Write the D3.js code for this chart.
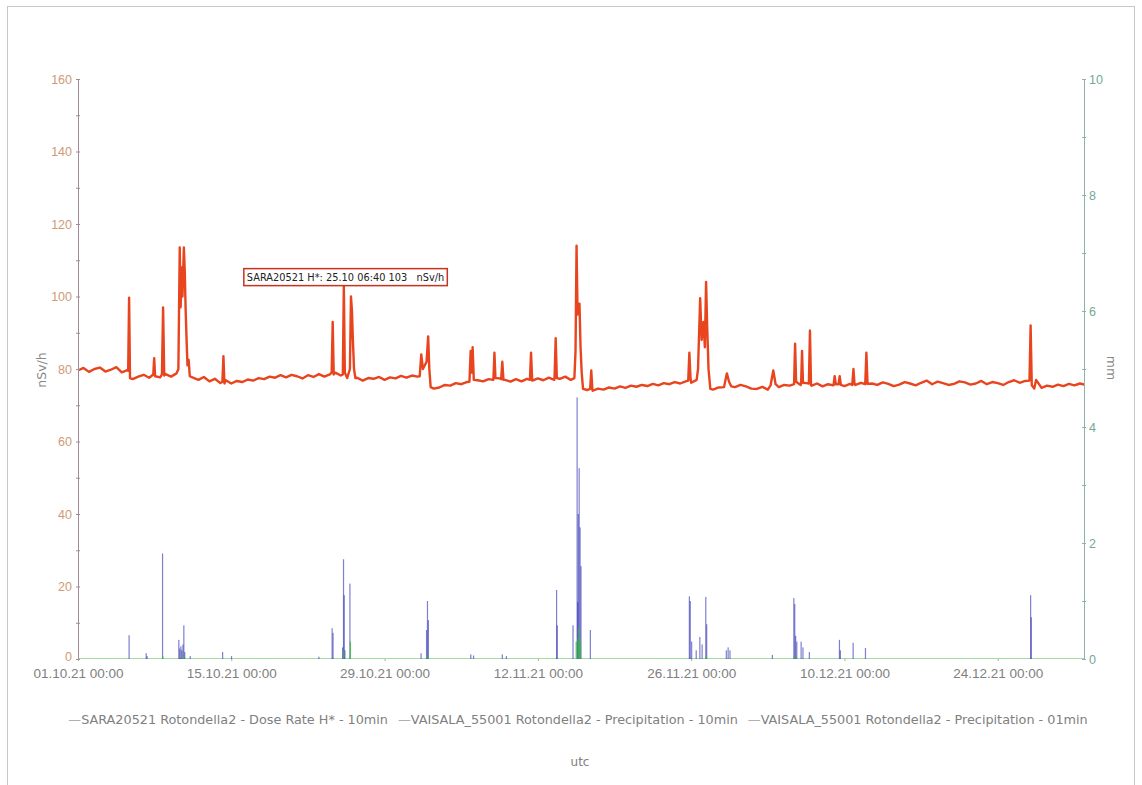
<!DOCTYPE html>
<html>
<head>
<meta charset="utf-8">
<script src="https://cdn.jsdelivr.net/npm/d3@7"></script>
<style>
    body { margin: 0; background: #fff; }
    svg { font-family: "DejaVu Sans", sans-serif; }
</style>
</head>
<body>
<svg id="chart" width="1142" height="785"></svg>
<script>
// Dose rate baseline, one value every 12 h starting 01.10.21 00:00 (nSv/h)
const doseStart = "2021-10-01 00:00";
const doseBaseline = [
    79.6, 80.3, 79.2, 80.0, 80.4, 79.3, 79.8, 80.5, 79.1, 79.7,
    77.2, 77.9, 78.4, 77.6, 78.3, 77.7, 78.6, 77.9, 78.8, 79.4,
    79.0, 77.6, 77.0, 77.8, 76.6, 77.3, 76.1, 76.9, 76.0, 76.7,
    76.4, 77.1, 76.8, 77.5, 77.2, 77.9, 77.6, 78.3, 77.7, 78.4,
    78.0, 77.4, 78.3, 77.8, 78.6, 77.9, 78.5, 79.0, 78.2, 78.8,
    77.0, 77.6, 76.8, 77.5, 77.3, 77.8, 77.0, 77.7, 77.4, 78.1,
    77.6, 78.2, 77.9, 79.5, 77.5, 74.6, 74.9, 75.6, 75.4, 76.1,
    75.8, 76.4, 76.1, 76.9, 76.6, 77.2, 76.8, 77.4, 77.0, 76.5,
    77.2, 76.6, 77.3, 76.8, 77.4, 76.9, 77.6, 77.0, 77.3, 77.9,
    77.0, 77.6, 75.0, 74.2, 74.0, 74.6, 74.3, 74.9, 74.6, 75.2,
    74.8, 75.4, 75.1, 75.6, 75.3, 75.9, 75.5, 76.1, 75.8, 76.4,
    76.0, 76.6, 76.2, 77.0, 77.5, 78.0, 74.3, 74.9, 74.7, 75.3,
    75.0, 75.6, 75.2, 74.6, 74.5, 75.1, 74.3, 74.9, 75.0, 75.6,
    75.4, 75.9, 75.6, 76.1, 75.4, 76.0, 75.2, 75.8, 75.5, 76.0,
    75.3, 75.9, 75.6, 76.2, 75.4, 76.0, 75.6, 76.3, 75.9, 75.3,
    75.7, 76.4, 76.0, 75.5, 76.2, 76.8, 75.8, 76.5, 76.1, 75.6,
    75.9, 76.6, 76.3, 75.7, 76.0, 76.7, 75.8, 76.4, 76.1, 75.6,
    76.4, 76.9, 76.2, 76.7, 76.5, 77.0, 74.8, 75.4, 75.1, 75.7,
    75.3, 75.9, 75.5, 76.0, 75.6
];

// Dose rate peaks (time, nSv/h), each one a short run of readings
const doseSpikes = [
    [["2021-10-05 14:00", 79.5], ["2021-10-05 16:00", 99.7], ["2021-10-05 18:00", 77.5]],
    [["2021-10-07 21:00", 78.5], ["2021-10-07 23:00", 83], ["2021-10-08 01:00", 78]],
    [["2021-10-08 16:00", 78.5], ["2021-10-08 18:30", 97], ["2021-10-08 21:00", 78.2]],
    [["2021-10-10 04:00", 80], ["2021-10-10 07:00", 113.5], ["2021-10-10 09:00", 97], ["2021-10-10 11:00", 108],
     ["2021-10-10 13:00", 100], ["2021-10-10 16:00", 113.5], ["2021-10-10 18:00", 107], ["2021-10-10 20:00", 96],
     ["2021-10-10 22:00", 88], ["2021-10-11 00:00", 81], ["2021-10-11 02:30", 82.5], ["2021-10-11 05:00", 78]],
    [["2021-10-14 04:30", 76.5], ["2021-10-14 06:45", 83.5], ["2021-10-14 09:00", 76]],
    [["2021-10-24 04:00", 79], ["2021-10-24 06:15", 93], ["2021-10-24 08:30", 78.5]],
    [["2021-10-25 04:30", 78.5], ["2021-10-25 06:40", 103], ["2021-10-25 08:50", 79], ["2021-10-25 14:00", 77.5],
     ["2021-10-25 20:00", 80], ["2021-10-25 22:20", 100], ["2021-10-26 00:30", 96], ["2021-10-26 02:30", 88],
     ["2021-10-26 05:00", 80], ["2021-10-26 08:00", 77.5]],
    [["2021-11-01 05:00", 78], ["2021-11-01 08:20", 84], ["2021-11-01 12:00", 80], ["2021-11-01 20:00", 82],
     ["2021-11-01 23:30", 89], ["2021-11-02 02:00", 80], ["2021-11-02 05:00", 75]],
    [["2021-11-05 18:00", 76.5], ["2021-11-05 20:40", 85], ["2021-11-05 22:40", 79], ["2021-11-06 01:00", 86],
     ["2021-11-06 03:30", 77]],
    [["2021-11-07 22:30", 77], ["2021-11-08 00:45", 84.5], ["2021-11-08 03:00", 77.5]],
    [["2021-11-08 15:30", 77.2], ["2021-11-08 18:00", 82], ["2021-11-08 20:30", 77]],
    [["2021-11-11 06:30", 77], ["2021-11-11 09:00", 84.5], ["2021-11-11 11:30", 76.8]],
    [["2021-11-13 12:30", 77.5], ["2021-11-13 15:00", 88.5], ["2021-11-13 17:30", 77.5]],
    [["2021-11-15 08:00", 77.5], ["2021-11-15 10:30", 85], ["2021-11-15 12:45", 114], ["2021-11-15 15:00", 95],
     ["2021-11-15 19:10", 98], ["2021-11-15 21:30", 86], ["2021-11-16 00:00", 79], ["2021-11-16 03:00", 74.5]],
    [["2021-11-16 18:30", 74.5], ["2021-11-16 21:00", 79.6], ["2021-11-16 23:30", 74.2]],
    [["2021-11-25 17:30", 76.8], ["2021-11-25 20:00", 84.5], ["2021-11-25 22:30", 77.5]],
    [["2021-11-26 15:00", 80], ["2021-11-26 19:40", 99.5], ["2021-11-26 23:00", 88], ["2021-11-27 03:00", 93],
     ["2021-11-27 06:00", 86], ["2021-11-27 08:40", 104], ["2021-11-27 11:00", 92], ["2021-11-27 14:00", 80],
     ["2021-11-27 18:00", 74.5]],
    [["2021-11-29 00:00", 75], ["2021-11-29 06:15", 78.8], ["2021-11-29 11:00", 76.5], ["2021-11-29 16:00", 75.2]],
    [["2021-12-03 06:00", 75.5], ["2021-12-03 12:00", 79.6], ["2021-12-03 17:00", 75.8]],
    [["2021-12-05 09:30", 75.8], ["2021-12-05 11:45", 87], ["2021-12-05 14:00", 76.5]],
    [["2021-12-06 01:00", 76], ["2021-12-06 03:00", 85], ["2021-12-06 05:00", 76.2]],
    [["2021-12-06 18:00", 76], ["2021-12-06 20:20", 90.6], ["2021-12-06 22:40", 75.5]],
    [["2021-12-09 00:00", 75.5], ["2021-12-09 02:30", 78], ["2021-12-09 05:00", 75.8]],
    [["2021-12-09 11:00", 75.8], ["2021-12-09 13:30", 78], ["2021-12-09 16:00", 75.6]],
    [["2021-12-10 17:00", 75.6], ["2021-12-10 19:40", 80], ["2021-12-10 22:00", 75.8]],
    [["2021-12-11 21:30", 75.8], ["2021-12-12 00:00", 84.5], ["2021-12-12 02:30", 75.9]],
    [["2021-12-26 21:30", 76.8], ["2021-12-27 00:00", 92], ["2021-12-27 02:30", 75.5], ["2021-12-27 08:00", 74.6]]
];

// Precipitation 10 min (mm)
const precip10 = [
    ["2021-10-05 16:00", 0.41], ["2021-10-07 05:30", 0.10], ["2021-10-07 07:30", 0.05],
    ["2021-10-08 17:20", 1.82], ["2021-10-10 05:00", 0.33], ["2021-10-10 07:00", 0.18],
    ["2021-10-10 09:30", 0.22], ["2021-10-10 11:30", 0.15], ["2021-10-10 14:00", 0.25],
    ["2021-10-10 16:00", 0.58], ["2021-10-10 18:00", 0.12], ["2021-10-11 06:00", 0.05],
    ["2021-10-14 05:00", 0.12], ["2021-10-15 00:30", 0.05], ["2021-10-23 00:00", 0.04],
    ["2021-10-24 05:00", 0.53], ["2021-10-24 07:00", 0.45], ["2021-10-25 04:00", 0.20],
    ["2021-10-25 06:00", 1.72], ["2021-10-25 07:30", 1.10], ["2021-10-25 09:00", 0.15],
    ["2021-10-25 20:00", 1.30], ["2021-11-01 08:00", 0.10], ["2021-11-01 20:00", 0.50],
    ["2021-11-01 22:00", 1.00], ["2021-11-02 00:00", 0.67], ["2021-11-05 21:00", 0.08],
    ["2021-11-06 03:00", 0.06], ["2021-11-08 18:00", 0.08], ["2021-11-09 03:00", 0.05],
    ["2021-11-13 17:00", 1.19], ["2021-11-13 18:30", 0.58], ["2021-11-15 05:00", 0.58],
    ["2021-11-15 14:00", 4.51], ["2021-11-15 15:30", 0.98], ["2021-11-15 16:30", 2.50],
    ["2021-11-15 18:30", 3.29], ["2021-11-15 20:30", 2.27], ["2021-11-15 22:30", 1.60],
    ["2021-11-16 19:00", 0.50], ["2021-11-25 20:00", 1.08], ["2021-11-25 22:00", 1.00],
    ["2021-11-26 01:00", 0.30], ["2021-11-26 11:00", 0.15], ["2021-11-26 19:00", 0.38],
    ["2021-11-27 00:00", 0.25], ["2021-11-27 08:00", 1.07], ["2021-11-27 10:00", 0.60],
    ["2021-11-29 05:00", 0.15], ["2021-11-29 09:00", 0.20], ["2021-11-29 13:00", 0.15],
    ["2021-12-03 10:00", 0.07], ["2021-12-05 09:00", 1.05], ["2021-12-05 11:00", 0.95],
    ["2021-12-05 13:00", 0.40], ["2021-12-05 15:30", 0.30], ["2021-12-06 01:00", 0.30],
    ["2021-12-06 05:00", 0.20], ["2021-12-06 19:00", 0.12], ["2021-12-09 13:00", 0.33],
    ["2021-12-09 15:00", 0.15], ["2021-12-10 19:00", 0.28], ["2021-12-11 22:00", 0.19],
    ["2021-12-27 00:00", 1.10], ["2021-12-27 01:30", 0.72]
];

// Precipitation 01 min (mm)
const precip01 = [
    ["2021-10-08 18:00", 0.05], ["2021-10-10 15:00", 0.08], ["2021-10-25 06:30", 0.15],
    ["2021-10-25 21:00", 0.30], ["2021-11-01 23:00", 0.08], ["2021-11-15 12:00", 0.30],
    ["2021-11-15 16:00", 0.35], ["2021-11-15 18:00", 0.55], ["2021-11-15 21:00", 0.30],
    ["2021-11-27 09:00", 0.06], ["2021-12-05 10:00", 0.05]
];

const timeDomain = ["2021-10-01 00:00", "2021-12-31 21:00"];
const xTickDates = ["2021-10-01 00:00", "2021-10-15 00:00", "2021-10-29 00:00", "2021-11-12 00:00",
                    "2021-11-26 00:00", "2021-12-10 00:00", "2021-12-24 00:00"];
const leftTicks = d3.range(0, 161, 10);
const rightTicks = d3.range(0, 11, 1);
const legendLabels = [
    "SARA20521 Rotondella2 - Dose Rate H* - 10min",
    "VAISALA_55001 Rotondella2 - Precipitation - 10min",
    "VAISALA_55001 Rotondella2 - Precipitation - 01min"
];
const annotation = { time: "2021-10-25 06:40", value: 103, label: "SARA20521 H*: 25.10 06:40 103   nSv/h" };

const parse = d3.utcParse("%Y-%m-%d %H:%M");
const svg = d3.select("#chart");

// frame
svg.append("rect")
    .attr("x", 7.5).attr("y", 6.5)
    .attr("width", 1127).attr("height", 800)
    .attr("fill", "none").attr("stroke", "#c8c8c8");

const plotLeft = 78, plotRight = 1084, plotTop = 79, plotBottom = 659;

const x = d3.scaleUtc().domain(timeDomain.map(parse)).range([plotLeft, plotRight]);
const yL = d3.scaleLinear().domain([0, 160]).range([plotBottom, plotTop]);
const yR = d3.scaleLinear().domain([0, 10]).range([plotBottom, plotTop]);

svg.append("clipPath").attr("id", "plot")
    .append("rect").attr("x", plotLeft).attr("y", plotTop - 2)
    .attr("width", plotRight - plotLeft).attr("height", plotBottom - plotTop + 2);

// build dose series: baseline readings outside peak runs + peak runs
const t0 = parse(doseStart);
const spikePts = doseSpikes.map(run => run.map(d => ({ t: parse(d[0]), v: d[1] })));
const spans = spikePts.map(run => [run[0].t, run[run.length - 1].t]);
let dose = doseBaseline
    .map((v, i) => ({ t: new Date(t0.getTime() + i * 12 * 3600 * 1000), v }))
    .filter(d => !spans.some(s => d.t >= s[0] && d.t <= s[1]));
spikePts.forEach(run => { dose = dose.concat(run); });
dose.sort((a, b) => a.t - b.t);

const plot = svg.append("g").attr("clip-path", "url(#plot)");

// 01min zero line
plot.append("line")
    .attr("x1", plotLeft).attr("x2", plotRight)
    .attr("y1", yR(0)).attr("y2", yR(0))
    .attr("stroke", "#9fe09f").attr("stroke-width", 2);

// precipitation bars
plot.selectAll(".p10").data(precip10).enter()
    .append("rect").attr("class", "p10")
    .attr("x", d => x(parse(d[0])) - 0.6)
    .attr("width", 1.2)
    .attr("y", d => yR(d[1]))
    .attr("height", d => yR(0) - yR(d[1]))
    .attr("fill", "#2a2ab0").attr("fill-opacity", 0.6);

plot.selectAll(".p01").data(precip01).enter()
    .append("rect").attr("class", "p01")
    .attr("x", d => x(parse(d[0])) - 0.6)
    .attr("width", 1.2)
    .attr("y", d => yR(d[1]))
    .attr("height", d => yR(0) - yR(d[1]))
    .attr("fill", "#30c030").attr("fill-opacity", 0.8);

// dose rate line
plot.append("path")
    .datum(dose)
    .attr("fill", "none")
    .attr("stroke", "#e8441e")
    .attr("stroke-width", 2.4)
    .attr("stroke-linejoin", "round")
    .attr("d", d3.line().x(d => x(d.t)).y(d => yL(d.v)));

// axes
const axL = svg.append("g").attr("transform", `translate(${plotLeft},0)`)
    .call(d3.axisLeft(yL).tickValues(leftTicks)
        .tickFormat(d => (d % 20 === 0 ? d : ""))
        .tickSizeInner(2).tickSizeOuter(0).tickPadding(4));
axL.select(".domain").attr("stroke", "#a08c94");
axL.selectAll(".tick line").attr("x1", 2).attr("stroke", "#a08c94");
axL.selectAll("text").attr("fill", "#cf9a78").style("font-size", "12.5px");
// lift the "0" a little so it clears the first date label
axL.selectAll(".tick text").filter(d => d === 0).attr("dy", "0.1em");

const axR = svg.append("g").attr("transform", `translate(${plotRight},0)`)
    .call(d3.axisRight(yR).tickValues(rightTicks)
        .tickFormat(d => (d % 2 === 0 ? d : ""))
        .tickSizeInner(2).tickSizeOuter(0).tickPadding(3));
axR.select(".domain").attr("stroke", "#90b2aa");
axR.selectAll(".tick line").attr("x1", -2).attr("stroke", "#90b2aa");
axR.selectAll("text").attr("fill", "#74a898").style("font-size", "12.5px");

const axB = svg.append("g").attr("transform", `translate(0,${plotBottom})`)
    .call(d3.axisBottom(x).tickValues(xTickDates.map(parse))
        .tickFormat(d3.utcFormat("%d.%m.%y %H:%M"))
        .tickSizeInner(2).tickSizeOuter(0).tickPadding(7));
axB.select(".domain").remove();
axB.selectAll(".tick line").attr("stroke", "#aaa");
axB.selectAll("text").attr("fill", "#808080").style("font-size", "13.5px");

// axis titles
svg.append("text")
    .attr("transform", "translate(46,370) rotate(-90)")
    .attr("text-anchor", "middle")
    .attr("fill", "#888").style("font-size", "12.5px")
    .text("nSv/h");
svg.append("text")
    .attr("transform", "translate(1107,368) rotate(90)")
    .attr("text-anchor", "middle")
    .attr("fill", "#888").style("font-size", "12.5px")
    .text("mm");

// annotation
const annX = x(parse(annotation.time));
const ann = svg.append("g").attr("transform", `translate(${annX - 100},${yL(annotation.value) - 17})`);
const annText = ann.append("text")
    .attr("x", 3).attr("y", 12)
    .attr("fill", "#222").style("font-size", "9.8px")
    .attr("xml:space", "preserve")
    .text(annotation.label);
const annW = annText.node().getComputedTextLength();
ann.insert("rect", "text")
    .attr("x", 0).attr("y", 0)
    .attr("width", annW + 6).attr("height", 17)
    .attr("fill", "#fff").attr("stroke", "#c8321e").attr("stroke-width", 1.5);

// legend
const legend = svg.append("g");
const items = legendLabels.map(label => {
    const t = legend.append("text").attr("y", 724)
        .attr("fill", "#808080").style("font-size", "12.8px");
    t.append("tspan").attr("fill", "#b0b0b0").text("\u2014");
    t.append("tspan").text(label);
    return t;
});
const gap = 10;
const widths = items.map(t => t.node().getComputedTextLength());
let lx = 578 - (d3.sum(widths) + gap * (items.length - 1)) / 2;
items.forEach((t, i) => {
    t.attr("x", lx);
    lx += widths[i] + gap;
});

svg.append("text")
    .attr("x", 580).attr("y", 766)
    .attr("text-anchor", "middle")
    .attr("fill", "#808080").style("font-size", "12px")
    .text("utc");
</script>
</body>
</html>
